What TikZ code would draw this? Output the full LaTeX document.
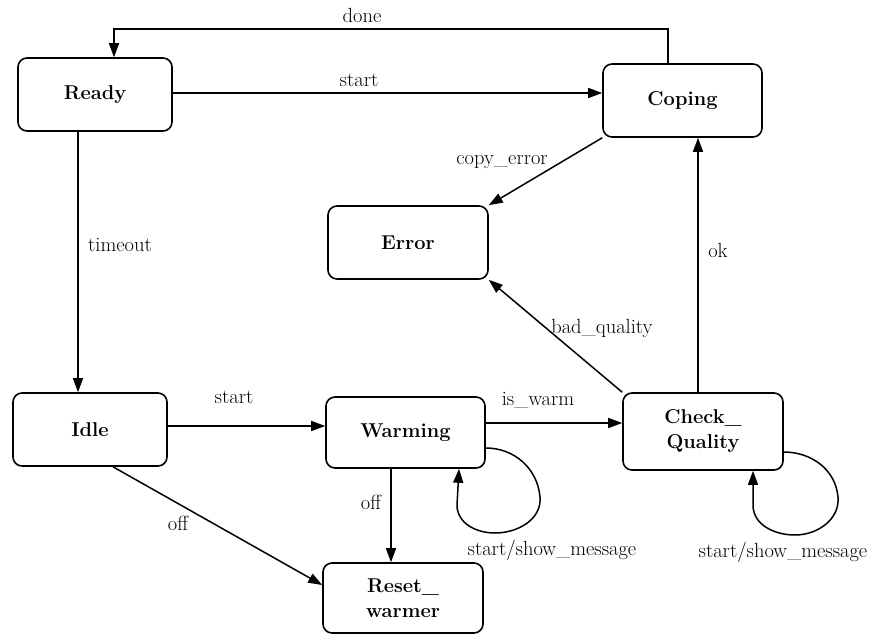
\documentclass[tikz,border=0pt]{standalone}
\usetikzlibrary{arrows.meta}
\begin{document}
\begin{tikzpicture}[x=1pt,y=-1pt,
  state/.style={draw,line width=1.6pt,rounded corners=9pt,align=center,font=\fontsize{20}{25}\selectfont\bfseries,inner sep=0pt},
  lbl/.style={font=\fontsize{20.5}{24}\selectfont,inner sep=1pt},
  arr/.style={line width=1.5pt,-{Triangle[length=14pt,width=10pt]}},
  ln/.style={line width=1.5pt}]
\useasboundingbox (0,0) rectangle (876,635);
% states
\node[state,minimum width=154pt,minimum height=73pt] (ready) at (95,94.5) {Ready};
\node[state,minimum width=159pt,minimum height=73pt] (coping) at (682.5,100.5) {Coping};
\node[state,minimum width=160pt,minimum height=73pt] (error) at (408,242.5) {Error};
\node[state,minimum width=154pt,minimum height=73pt] (idle) at (90,429.5) {Idle};
\node[state,minimum width=159pt,minimum height=71pt] (warming) at (405.5,432.5) {Warming};
\node[state,minimum width=160pt,minimum height=77pt] (check) at (703,431.5) {Check\_\\Quality};
\node[state,minimum width=160pt,minimum height=70pt] (reset) at (403,598) {Reset\_\\warmer};
% helper coordinates
\coordinate (d1) at (668,29);
\coordinate (d2) at (114,29);
\coordinate (s1) at (0,93);
\coordinate (t1) at (78,0);
\coordinate (k1) at (698,0);
\coordinate (s2) at (0,426);
\coordinate (w1) at (0,423);
\coordinate (o1) at (113,0);
\coordinate (o2) at (0,585);
\coordinate (o3) at (391,0);
\coordinate (wl1) at (0,448);
\coordinate (wl2) at (459,0);
\coordinate (cl1) at (0,452);
\coordinate (cl2) at (753,0);
% transitions
\draw[arr] (coping.north -| d1) -- (d1) -- (d2) -- (ready.north -| d2);
\draw[arr] (ready.east |- s1) -- (coping.west |- s1);
\draw[arr] (coping.south west) -- (error.north east);
\draw[arr] (ready.south -| t1) -- (idle.north -| t1);
\draw[arr] (check.north -| k1) -- (coping.south -| k1);
\draw[arr] (check.north west) -- (error.south east);
\draw[arr] (idle.east |- s2) -- (warming.west |- s2);
\draw[arr] (warming.east |- w1) -- (check.west |- w1);
\draw[arr] (idle.south -| o1) -- (reset.west |- o2);
\draw[arr] (warming.south -| o3) -- (reset.north -| o3);
\draw[arr] (warming.east |- wl1) to[out=0,in=95] (540,497) to[out=-85,in=0] (495,533) to[out=180,in=-90] (457,505) -- (warming.south -| wl2);
\draw[arr] (check.east |- cl1) to[out=0,in=95] (838,497) to[out=-85,in=0] (795,535) to[out=180,in=-90] (753,505) -- (check.south -| cl2);
% labels
\node[lbl] (ldone) at (362,15) {done};
\node[lbl] (lstart1) at (359,80) {start};
\node[lbl] (lcopy) at (502,162) {copy\_error};
\node[lbl] (ltime) at (120,245) {timeout};
\node[lbl] (lok) at (718,250) {ok};
\node[lbl] (lbad) at (602,328) {bad\_quality};
\node[lbl] (lstart2) at (234,397) {start};
\node[lbl] (lwarm) at (538,400) {is\_warm};
\node[lbl] (loff1) at (178,523) {off};
\node[lbl] (loff2) at (371,502) {off};
\node[lbl] (lmsg1) at (552,550) {start/show\_message};
\node[lbl] (lmsg2) at (783,552) {start/show\_message};
\end{tikzpicture}
\end{document}
